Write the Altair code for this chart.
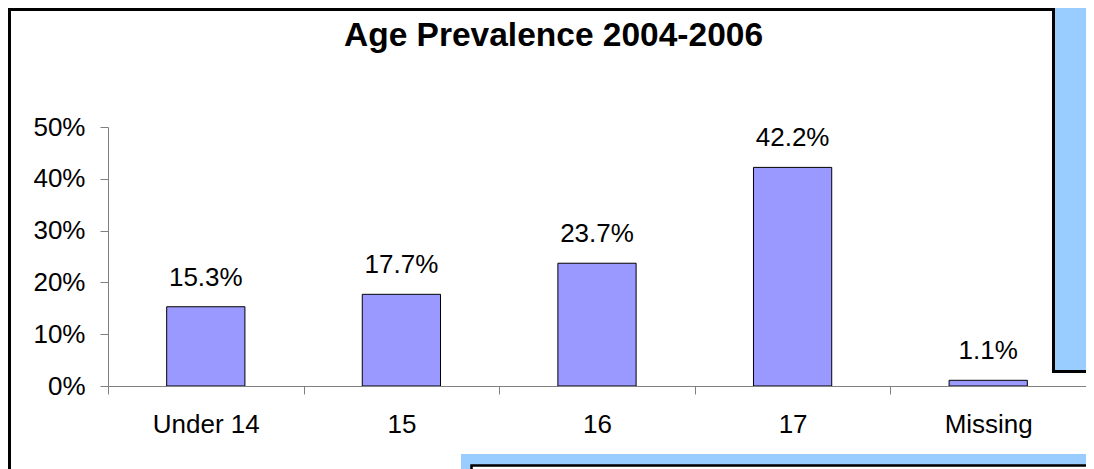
import altair as alt
import pandas as pd

categories = ["Under 14", "15", "16", "17", "Missing"]
values = [0.153, 0.177, 0.237, 0.422, 0.011]
labels = ["15.3%", "17.7%", "23.7%", "42.2%", "1.1%"]
y_ticks = [0, 0.1, 0.2, 0.3, 0.4, 0.5]
title_text = ["Age Prevalence 2004-2006"]

FONT = "Liberation Sans"
BLUE = "#99CCFF"
BAR = "#9999FF"
GRAY = "#808080"

df = pd.DataFrame({"cat": categories, "val": values, "lab": labels})
one = pd.DataFrame({"t": title_text})

x_enc = alt.X(
    "cat:N", sort=categories,
    scale=alt.Scale(paddingInner=0, paddingOuter=0),
    axis=alt.Axis(title=None, labelAngle=0, tickBand="extent", tickSize=8,
                  domainColor=GRAY, tickColor=GRAY, labelFont=FONT,
                  labelFontSize=26, labelColor="black", labelPadding=38,
                  labelBaseline="alphabetic", zindex=1),
)
y_enc = alt.Y(
    "val:Q", scale=alt.Scale(domain=[0, 0.5], nice=False),
    axis=alt.Axis(title=None, values=y_ticks, format=".0%", grid=False,
                  tickSize=8, domainColor=GRAY, tickColor=GRAY,
                  labelFont=FONT, labelFontSize=26, labelColor="black",
                  labelPadding=15, zindex=1),
)

box = alt.Chart(one).mark_rect(fill="white", stroke="black", strokeWidth=3).encode(
    x=alt.value(-98.5), x2=alt.value(1300), y=alt.value(-117.5), y2=alt.value(700))

base = alt.Chart(df).encode(x=x_enc, y=y_enc)
bars = base.mark_bar(color=BAR, stroke="black", strokeWidth=1,
                     width=alt.RelativeBandSize(0.4))
texts = base.mark_text(dy=-21, baseline="alphabetic", fontSize=26, font=FONT,
                       color="black").encode(text="lab:N")

right_box = alt.Chart(one).mark_rect(fill=BLUE, stroke="black", strokeWidth=3).encode(
    x=alt.value(945.5), x2=alt.value(1300), y=alt.value(-400), y2=alt.value(244.5))
bottom_blue = alt.Chart(one).mark_rect(fill=BLUE).encode(
    x=alt.value(353), x2=alt.value(1300), y=alt.value(327), y2=alt.value(700))
bottom_box = alt.Chart(one).mark_rect(fill="white", stroke="black", strokeWidth=2.5).encode(
    x=alt.value(363.5), x2=alt.value(1300), y=alt.value(338.5), y2=alt.value(700))

title = alt.Chart(one).mark_text(fontSize=33.5, fontWeight="bold", font=FONT,
                                 color="black", align="center",
                                 baseline="alphabetic").encode(
    text="t:N", x=alt.value(445.5), y=alt.value(-81))

chart = alt.layer(box, bars, texts, right_box, bottom_blue, bottom_box, title).properties(
    width=978, height=259,
    padding={"left": 100, "top": 119, "right": 0, "bottom": 83},
    autosize="none",
    background=BLUE,
).configure_view(strokeWidth=0)

chart.save("out.html", embed_options={"renderer": "svg", "actions": False})
